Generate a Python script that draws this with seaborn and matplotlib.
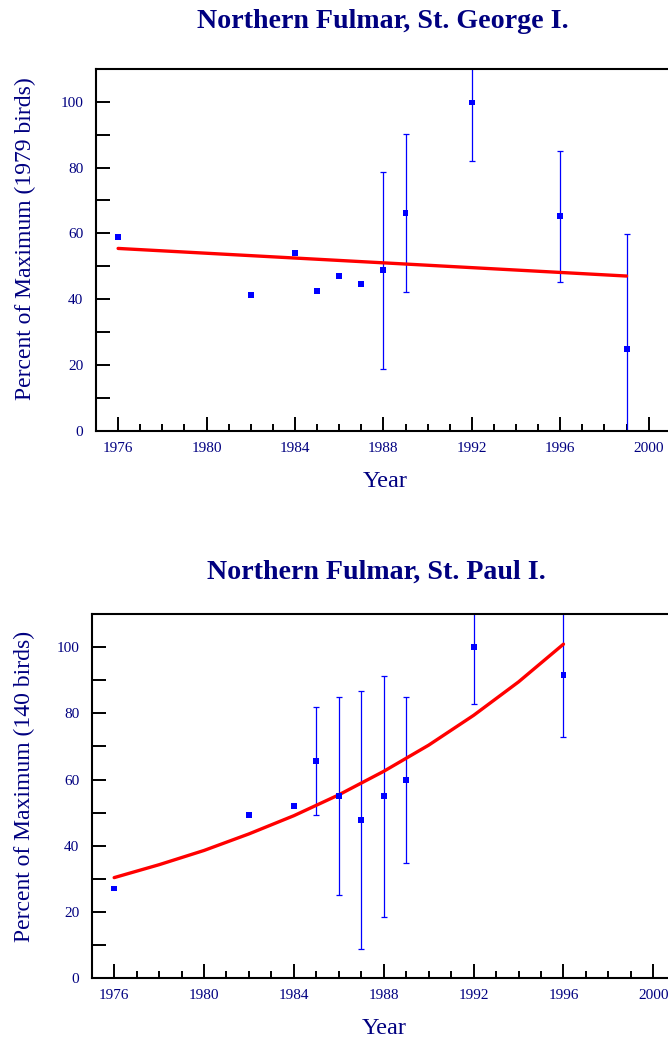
import numpy as np
import seaborn as sns
import matplotlib.pyplot as plt
import pandas as pd
from matplotlib.ticker import MultipleLocator

# St. George I. counts, percent of max (1979 birds)
george_years = [1976, 1982, 1984, 1985, 1986, 1987, 1988, 1989, 1992, 1996, 1999]
george_pct = [59.0, 41.3, 54.0, 42.5, 46.9, 44.5, 48.8, 66.1, 99.8, 65.2, 24.7]
george_err = [0, 0, 0, 0, 0, 0, 30.0, 24.0, 17.8, 20.0, 35.1]
george_trend_years = [1976, 1999]
george_trend_pct = [55.4, 47.0]

# St. Paul I. counts, percent of max (140 birds)
paul_years = [1976, 1982, 1984, 1985, 1986, 1987, 1988, 1989, 1992, 1996]
paul_pct = [27.1, 49.2, 52.1, 65.6, 55.0, 47.8, 55.0, 59.9, 100.1, 91.5]
paul_err = [0, 0, 0, 16.4, 29.8, 39.0, 36.4, 25.1, 17.2, 18.7]
paul_trend_years = [1976, 1978, 1980, 1982, 1984, 1986, 1988, 1990, 1992, 1994, 1996]
paul_trend_pct = [30.4, 34.3, 38.6, 43.6, 49.1, 55.4, 62.5, 70.4, 79.4, 89.5, 100.9]

navy = '#000080'

sns.set_theme(style='ticks')
plt.rcParams['font.family'] = ['Liberation Serif', 'DejaVu Serif']

fig = plt.figure(figsize=(6.68, 10.42), dpi=100)
W, H = 668, 1042


def panel(rect, years, pct, err, t_years, t_pct, ylabel, ylab_xy, xlab_xy):
    left, top, right, bottom = rect
    ax = fig.add_axes([left / W, 1 - bottom / H, (right - left) / W, (bottom - top) / H])
    df = pd.DataFrame({'Year': years, 'Pct': pct, 'Err': err})
    bars = df[df['Err'] > 0]
    ax.errorbar(bars['Year'], bars['Pct'], yerr=bars['Err'], fmt='none',
                ecolor='#0000ff', elinewidth=0.9, capsize=2.5, capthick=0.9, zorder=2)
    sns.lineplot(x=t_years, y=t_pct, ax=ax, color='#ff0000', linewidth=2.4, zorder=3)
    sns.scatterplot(data=df, x='Year', y='Pct', ax=ax, marker='s', s=18,
                    color='#0000ff', edgecolor='none', zorder=4)
    ax.set_xlim(1975, 2001)
    ax.set_ylim(0, 110)
    ax.xaxis.set_major_locator(MultipleLocator(4))
    ax.xaxis.set_minor_locator(MultipleLocator(1))
    ax.yaxis.set_major_locator(MultipleLocator(20))
    ax.yaxis.set_minor_locator(MultipleLocator(10))
    ax.tick_params(axis='both', which='both', direction='in', color='black', width=1.4,
                   labelcolor=navy, labelsize=11, top=False, right=False)
    ax.tick_params(axis='x', which='major', length=10, pad=8)
    ax.tick_params(axis='x', which='minor', length=5)
    ax.tick_params(axis='y', which='both', length=10, pad=9)
    for s in ax.spines.values():
        s.set_color('black')
        s.set_linewidth(1.5)
    ax.set_xlabel('Year', fontsize=17.5, color=navy, va='center')
    ax.set_ylabel(ylabel, fontsize=17, color=navy, va='center')
    ax.xaxis.set_label_coords(*xlab_xy)
    ax.yaxis.set_label_coords(*ylab_xy)
    return ax


panel((96, 69, 670.8, 430.5), george_years, george_pct, george_err,
      george_trend_years, george_trend_pct, 'Percent of Maximum (1979 birds)',
      (-0.1235, 0.530), (0.503, -0.1416))
panel((91.7, 614, 675.8, 978.3), paul_years, paul_pct, paul_err,
      paul_trend_years, paul_trend_pct, 'Percent of Maximum (140 birds)',
      (-0.1156, 0.528), (0.5004, -0.139))

fig.text(383.3 / W, 1 - 21.5 / H, 'Northern Fulmar, St. George I.', ha='center', va='center',
         fontsize=20.2, fontweight='bold', color=navy)
fig.text(376.7 / W, 1 - 572 / H, 'Northern Fulmar, St. Paul I.', ha='center', va='center',
         fontsize=20.2, fontweight='bold', color=navy)

fig.savefig('out.png', dpi=100, facecolor='white')
